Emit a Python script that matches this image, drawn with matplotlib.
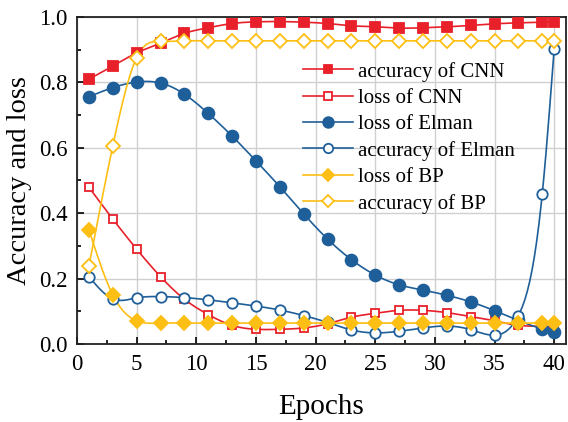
import numpy as np
import matplotlib
matplotlib.use("Agg")
import matplotlib.pyplot as plt
from matplotlib.ticker import MultipleLocator

plt.rcParams['font.family'] = ['Liberation Serif', 'DejaVu Serif']

epochs = [1, 3, 5, 7, 9, 11, 13, 15, 17, 19, 21, 23, 25, 27, 29, 31, 33, 35, 37, 39, 40]

acc_cnn = [0.81, 0.85, 0.89, 0.92, 0.95, 0.967, 0.98, 0.985, 0.986, 0.984, 0.98,
           0.973, 0.97, 0.966, 0.967, 0.97, 0.974, 0.979, 0.982, 0.984, 0.985]
loss_cnn = [0.479, 0.382, 0.29, 0.206, 0.137, 0.09, 0.057, 0.045, 0.045, 0.049, 0.062,
            0.082, 0.094, 0.103, 0.103, 0.096, 0.084, 0.071, 0.057, 0.054, 0.052]
loss_elman = [0.756, 0.784, 0.801, 0.798, 0.764, 0.705, 0.636, 0.56, 0.481, 0.398, 0.321,
              0.258, 0.211, 0.181, 0.165, 0.149, 0.129, 0.102, 0.072, 0.046, 0.036]
acc_elman = [0.206, 0.138, 0.141, 0.145, 0.142, 0.135, 0.126, 0.116, 0.104, 0.087, 0.066,
             0.043, 0.034, 0.039, 0.049, 0.055, 0.044, 0.027, 0.087, 0.458, 0.901]
loss_bp = [0.349, 0.15, 0.071, 0.064, 0.064, 0.064, 0.064, 0.064, 0.064, 0.064, 0.064,
           0.064, 0.064, 0.064, 0.064, 0.064, 0.064, 0.064, 0.064, 0.064, 0.064]
acc_bp = [0.239, 0.606, 0.876, 0.925, 0.927, 0.927, 0.927, 0.927, 0.927, 0.927, 0.927,
          0.927, 0.927, 0.927, 0.927, 0.927, 0.927, 0.927, 0.927, 0.927, 0.927]

RED = '#e8202a'
BLUE = '#1f5f99'
YEL = '#fdbf14'


def spline(x, y, n=400):
    # natural cubic spline, for drawing the smooth connecting line only
    x = np.asarray(x, float)
    y = np.asarray(y, float)
    h = np.diff(x)
    k = len(x)
    A = np.zeros((k, k))
    b = np.zeros(k)
    A[0, 0] = A[-1, -1] = 1
    for i in range(1, k - 1):
        A[i, i - 1] = h[i - 1]
        A[i, i] = 2 * (h[i - 1] + h[i])
        A[i, i + 1] = h[i]
        b[i] = 6 * ((y[i + 1] - y[i]) / h[i] - (y[i] - y[i - 1]) / h[i - 1])
    M = np.linalg.solve(A, b)
    xs = np.linspace(x[0], x[-1], n)
    idx = np.clip(np.searchsorted(x, xs) - 1, 0, k - 2)
    x0, x1 = x[idx], x[idx + 1]
    hh = x1 - x0
    t0 = x1 - xs
    t1 = xs - x0
    ys = (M[idx] * t0 ** 3 + M[idx + 1] * t1 ** 3) / (6 * hh) \
        + (y[idx] / hh - M[idx] * hh / 6) * t0 + (y[idx + 1] / hh - M[idx + 1] * hh / 6) * t1
    return xs, ys


fig = plt.figure(figsize=(5.68, 4.22), dpi=100)
ax = fig.add_axes([0.1356, 0.1848, 0.861, 0.775])

series = [
    (acc_cnn, RED, 's', RED, 7, 'accuracy of CNN'),
    (loss_cnn, RED, 's', 'white', 6, 'loss of CNN'),
    (loss_elman, BLUE, 'o', BLUE, 8.5, 'loss of Elman'),
    (acc_elman, BLUE, 'o', 'white', 7.5, 'accuracy of Elman'),
    (loss_bp, YEL, 'D', YEL, 7, 'loss of BP'),
    (acc_bp, YEL, 'D', 'white', 7, 'accuracy of BP'),
]

for vals, col, mk, fc, ms, lab in series:
    xs, ys = spline(epochs, vals)
    ax.plot(xs, ys, color=col, lw=1.2, zorder=2)
    ax.plot(epochs, vals, ls='none', marker=mk, mfc=fc, mec=col, mew=1.3, ms=ms, zorder=3)
    ax.plot([], [], color=col, lw=1.2, marker=mk, mfc=fc, mec=col, mew=1.3, ms=ms * 0.9, label=lab)

ax.set_xlim(0, 41)
ax.set_ylim(0, 1.0)
ax.xaxis.set_major_locator(MultipleLocator(5))
ax.xaxis.set_minor_locator(MultipleLocator(2.5))
ax.yaxis.set_major_locator(MultipleLocator(0.2))
ax.yaxis.set_minor_locator(MultipleLocator(0.1))
ax.yaxis.set_major_formatter(matplotlib.ticker.FormatStrFormatter('%.1f'))
ax.tick_params(which='both', direction='in', top=False, right=False, labelsize=16.5, width=1.2)
ax.tick_params(which='major', length=5, pad=7)
ax.tick_params(which='minor', length=3)
ax.grid(True, which='major', color='#d0d0d0', lw=1)
ax.set_axisbelow(True)
for s in ax.spines.values():
    s.set_linewidth(1.3)
    s.set_color('#222222')

ax.set_xlabel('Epochs', fontsize=21, labelpad=14)
ax.set_ylabel('Accuracy and loss', fontsize=20.5, labelpad=5)

ax.legend(loc='upper left', bbox_to_anchor=(0.44, 0.895), frameon=False, fontsize=15,
          handlelength=2.4, handletextpad=0.25, labelspacing=0.32, borderpad=0)

fig.savefig('out.png', dpi=100)
